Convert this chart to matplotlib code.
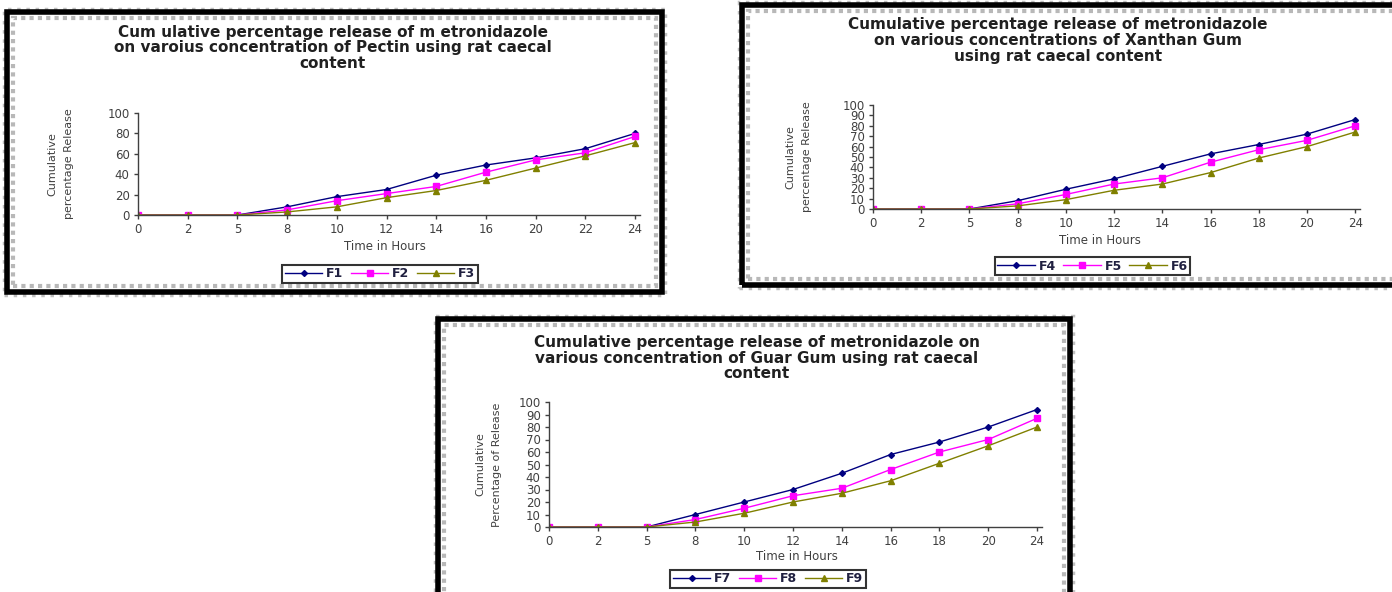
import numpy as np
import matplotlib
matplotlib.use('Agg')
import matplotlib.pyplot as plt
from matplotlib.patches import Rectangle

W, H = 1392, 592

# chart 1 - pectin
pectin_hours = ['0', '2', '5', '8', '10', '12', '14', '16', '20', '22', '24']
f1 = [0, 0, 0, 8, 18, 25, 39, 49, 56, 65, 80]
f2 = [0, 0, 0, 5, 14, 21, 28, 42, 54, 61, 77]
f3 = [0, 0, 0, 3, 8, 17, 24, 34, 46, 58, 71]

# chart 2 - xanthan gum
xanthan_hours = ['0', '2', '5', '8', '10', '12', '14', '16', '18', '20', '24']
f4 = [0, 0, 0, 8, 19, 29, 41, 53, 62, 72, 86]
f5 = [0, 0, 0, 5, 14, 24, 30, 45, 57, 66, 80]
f6 = [0, 0, 0, 3, 9, 18, 24, 35, 49, 60, 74]

# chart 3 - guar gum
guar_hours = ['0', '2', '5', '8', '10', '12', '14', '16', '18', '20', '24']
f7 = [0, 0, 0, 10, 20, 30, 43, 58, 68, 80, 94]
f8 = [0, 0, 0, 6, 15, 25, 31, 46, 60, 70, 87]
f9 = [0, 0, 0, 4, 11, 20, 27, 37, 51, 65, 80]

colors = ['#000080', '#ff00ff', '#808000']
markers = ['D', 's', '^']
msizes = [3, 4, 4]

fig = plt.figure(figsize=(W / 100, H / 100), dpi=100)
fig.patch.set_facecolor('white')


def fx(x):
    return x / W


def fy(y):
    return 1 - y / H


def panel(x0, y0, x1, y1):
    # grey dotted halo, black frame, grey inner band
    fig.patches.append(Rectangle((fx(x0 - 3), fy(y1 + 3)), fx(x1 - x0 + 6), (y1 - y0 + 6) / H,
                                 transform=fig.transFigure, fill=False,
                                 edgecolor='#c0c0c0', linewidth=2.5, linestyle=':'))
    fig.patches.append(Rectangle((fx(x0), fy(y1)), fx(x1 - x0), (y1 - y0) / H,
                                 transform=fig.transFigure, fill=False,
                                 edgecolor='black', linewidth=4))
    fig.patches.append(Rectangle((fx(x0 + 6), fy(y1 - 6)), fx(x1 - x0 - 12), (y1 - y0 - 12) / H,
                                 transform=fig.transFigure, fill=False,
                                 edgecolor='#b8b8b8', linewidth=3, linestyle=(0, (1, 1))))


def chart(box, title_lines, title_x, title_y, hours, series, names, ystep,
          ylabel, ylab_x, xlab_x, xlab_y, leg_box, x_right):
    left, top, right0, bottom = box
    n = len(hours)
    ax = fig.add_axes([fx(left), fy(bottom), fx(right0 - left), (bottom - top) / H])
    for vals, c, m, ms, nm in zip(series, colors, markers, msizes, names):
        ax.plot(range(n), vals, color=c, marker=m, markersize=ms, linewidth=1, label=nm)
    ax.set_xlim(0, x_right)
    ax.set_ylim(0, 100)
    ax.set_xticks(range(n))
    ax.set_xticklabels(hours)
    ax.set_yticks(np.arange(0, 101, ystep))
    for s in ['top', 'right']:
        ax.spines[s].set_visible(False)
    for s in ['left', 'bottom']:
        ax.spines[s].set_color('#404040')
        ax.spines[s].set_linewidth(1)
    ax.tick_params(direction='out', length=3, width=1, colors='#404040',
                   labelsize=8.5, pad=3)
    ax.set_facecolor('none')
    for i, line in enumerate(title_lines):
        fig.text(fx(title_x), fy(title_y + i * 15.5), line, ha='center', va='center',
                 fontsize=11, fontweight='bold', family='DejaVu Sans', color='#202020')
    fig.text(fx(xlab_x), fy(xlab_y), 'Time in Hours', ha='center', va='center',
             fontsize=8.5, color='#404040', family='DejaVu Sans')
    mid = (top + bottom) / 2
    fig.text(fx(ylab_x), fy(mid), ylabel[0], ha='center', va='center', rotation=90,
             fontsize=8, color='#404040', family=['Liberation Sans Narrow', 'DejaVu Sans'])
    fig.text(fx(ylab_x + 17), fy(mid), ylabel[1], ha='center', va='center', rotation=90,
             fontsize=8, color='#404040', family=['Liberation Sans Narrow', 'DejaVu Sans'])
    lx0, ly0, lx1, ly1 = leg_box
    leg = fig.legend(*ax.get_legend_handles_labels(), ncol=3,
                     loc='center', bbox_to_anchor=(fx((lx0 + lx1) / 2), fy((ly0 + ly1) / 2)),
                     frameon=True, fancybox=False, edgecolor='black',
                     handlelength=3, handletextpad=0.3, columnspacing=0.6,
                     borderpad=0.2, prop={'weight': 'bold', 'size': 9})
    leg.get_frame().set_linewidth(1.5)
    for t in leg.get_texts():
        t.set_color('#202040')
    return ax


panel(7, 12, 662, 292)
panel(742, 5, 1400, 285)
panel(438, 319, 1070, 600)

chart((138, 113, 640, 215),
      ['Cum ulative percentage release of m etronidazole',
       'on varoius concentration of Pectin using rat caecal',
       'content'],
      333, 32, pectin_hours, [f1, f2, f3], ['F1', 'F2', 'F3'], 20,
      ['Cumulative', 'percentage Release'], 52, 385, 247, (277, 265, 483, 282), 10.1)

chart((873, 105, 1360, 209),
      ['Cumulative percentage release of metronidazole',
       'on various concentrations of Xanthan Gum',
       'using rat caecal content'],
      1058, 25, xanthan_hours, [f4, f5, f6], ['F4', 'F5', 'F6'], 10,
      ['Cumulative', 'percentage Release'], 790, 1100, 240, (990, 258, 1195, 274), 10.1)

chart((549, 402, 1042, 527),
      ['Cumulative percentage release of metronidazole on',
       'various concentration of Guar Gum using rat caecal',
       'content'],
      757, 343, guar_hours, [f7, f8, f9], ['F7', 'F8', 'F9'], 10,
      ['Cumulative', 'Percentage of Release'], 480, 797, 557, (681, 571, 855, 586), 10.1)

fig.savefig('out.png', dpi=100, facecolor='white')
